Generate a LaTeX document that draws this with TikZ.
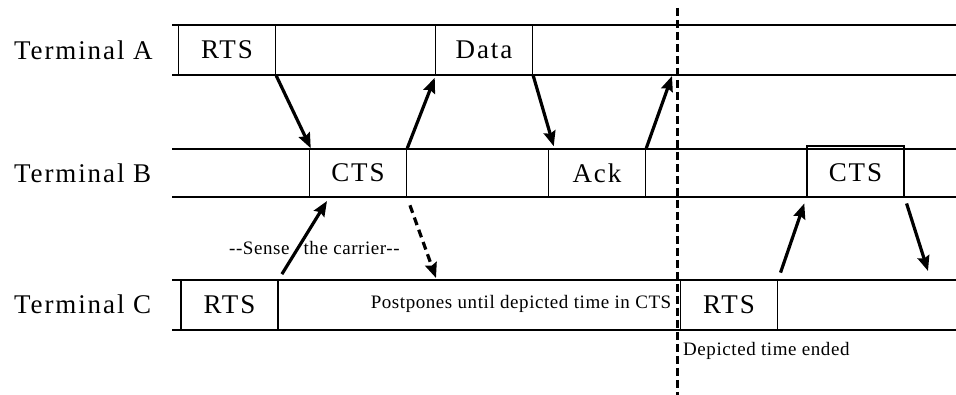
\documentclass[tikz,border=0pt]{standalone}
\usepackage{fontspec}
\setmainfont{Liberation Serif}
\usetikzlibrary{arrows.meta,calc}

\tikzset{
  slot/.style={draw,line width=1.5pt,inner sep=0pt,minimum width=97pt,
    font=\fontsize{27}{29}\selectfont\addfontfeature{LetterSpace=7}},
  term/.style={anchor=west,inner sep=0pt,
    font=\fontsize{27}{29}\selectfont\addfontfeature{LetterSpace=7}},
  note/.style={inner sep=0pt,font=\fontsize{19}{21}\selectfont\addfontfeature{LetterSpace=3}},
  row/.style={line width=1.5pt},
  msg/.style={->,line width=3.2pt},
  cut/.style={line width=3pt,dash pattern=on 8pt off 4pt},
}

\begin{document}
\begin{tikzpicture}[x=1pt,y=-1pt,>={Stealth[length=15pt,width=12pt,inset=2pt]}]
  \useasboundingbox (0,0) rectangle (956,395);
  % time lines of the three terminals
  \draw[row]
    (172,25)--(956,25) (172,75)--(956,75)
    (172,149)--(956,149) (172,197)--(956,197)
    (172,280)--(956,280) (172,330)--(956,330)
    ;
  \path
    (14,50) node[term] (termA) {Terminal A}
    (14,173) node[term] (termB) {Terminal B}
    (14,304) node[term] (termC) {Terminal C}
    ;
  % frames
  \node[slot,minimum height=50pt] (rtsA) at (227,50) {RTS};
  \node[slot,minimum height=50pt] (dataA) at (484,50) {Data};
  \node[slot,minimum height=48pt] (ctsB) at (358,173) {CTS};
  \node[slot,minimum height=48pt] (ackB) at (597,173) {Ack};
  \node[slot,minimum height=51pt,text depth=0pt,text height=21pt] (ctsBB) at (855.5,171.5) {CTS};
  \node[slot,minimum height=50pt] (rtsC) at (229.5,305) {RTS};
  \node[slot,minimum height=50pt] (rtsCC) at (729,305) {RTS};
  \node[note] (wait) at (521,304) {Postpones until depicted time in CTS};
  \node[note,anchor=west] (sense) at (229,248) {-{}-Sense\hspace{14pt}the carrier-{}-};
  \node[note,anchor=west] (ended) at (683,351) {Depicted time ended};
  % free ends
  \coordinate (ackRet) at (672,76);
  \coordinate (senseEnd) at (327,201);
  \coordinate (waitEnd) at (436,278);
  \coordinate (lastEnd) at (928,271);
  \coordinate (cutTop) at (677,8);
  \coordinate (cutBot) at (677,395);
  \draw[cut] (cutTop)--(cutBot);
  % messages
  \draw[msg] (rtsA.south east)--([xshift=2pt]ctsB.north west);
  \draw[msg] (ctsB.north east)--([yshift=-2pt]dataA.south west);
  \draw[msg] (dataA.south east)--([xshift=6pt,yshift=2pt]ackB.north west);
  \draw[msg] (ackB.north east)--(ackRet);
  \draw[msg,shorten <=6pt] (rtsC.north east)--(senseEnd);
  \draw[msg,dash pattern=on 8pt off 5pt,shorten <=8pt] (ctsB.south east)--(waitEnd);
  \draw[msg,shorten <=7pt,shorten >=6pt] (rtsCC.north east)--(ctsBB.south west);
  \draw[msg,shorten <=6pt] (ctsBB.south east)--(lastEnd);
\end{tikzpicture}
\end{document}
